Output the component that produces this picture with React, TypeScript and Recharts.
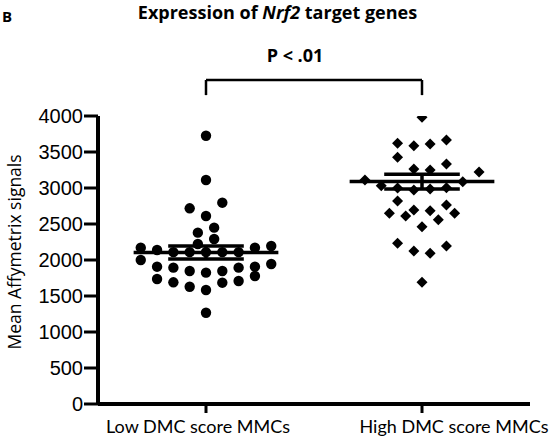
import React from 'react';
import { ScatterChart, Scatter, XAxis, YAxis, ReferenceLine } from 'recharts';

const categories = ['Low DMC score MMCs', 'High DMC score MMCs'];
const yTicks = [0, 500, 1000, 1500, 2000, 2500, 3000, 3500, 4000];

// Low DMC score group: values and beeswarm lane index
const lowValues = [3726, 3111, 2718, 2796, 2611, 2380, 2449, 2292, 2222, 2171, 2000, 2139, 2171, 2194, 1944, 1907, 1778, 1894, 1708, 1907, 1736, 1894, 1690, 1847, 1629, 1824, 1583, 1847, 1685, 1268, 2110, 2110, 2110, 2110, 2110];
const lowLanes = [0, 0, -2, 2, 0, -1, 1, 1, -1, -8, -8, -6, 6, 8, 8, 6, 6, 4, 4, -6, -6, -4, -4, -2, -2, 0, 0, 2, 2, 0, -4, -2, 0, 2, 4];

// High DMC score group
const highValues = [3982, 3620, 3588, 3611, 3667, 3426, 3333, 3264, 3250, 3222, 3111, 3032, 3000, 2972, 2986, 3004, 3088, 2819, 2764, 2694, 2685, 2648, 2611, 2648, 2560, 2463, 2231, 2194, 2125, 2093, 1690];
const highLanes = [0, -3, -1, 1, 3, -3, 3, -1, 1, 7, -7, -5, -3, -1, 1, 3, 5, -3, 3, -1, 1, -4, -2, 4, 2, 0, -3, 3, -1, 1, 0];

const means = [2105, 3090];
const semHigh = [2195, 3190];
const semLow = [2015, 2985];

const pValueLabel = 'P < .01';

const LANE = 0.0755;
const groupPos = (i: number) => i * 2 + 1;

const lowData = lowValues.map((v, i) => ({ x: groupPos(0) + lowLanes[i] * LANE, y: v }));
const highData = highValues.map((v, i) => ({ x: groupPos(1) + highLanes[i] * LANE, y: v }));

const Circle = (props: any) => <circle cx={props.cx} cy={props.cy} r={5.2} fill="#000" />;
const Diamond = (props: any) => {
  const { cx, cy } = props;
  const r = 5.5;
  return <polygon points={`${cx},${cy - r} ${cx + r},${cy} ${cx},${cy + r} ${cx - r},${cy}`} fill="#000" />;
};

const labelOffsets = [-8, 32];
const XTick = (props: any) => {
  const { x, y, payload } = props;
  const idx = payload.value === 1 ? 0 : 1;
  return (
    <text x={x + labelOffsets[idx]} y={y} dy={16} textAnchor="middle" fontFamily="Lato" fontSize={18} fill="#000">
      {categories[idx]}
    </text>
  );
};

const lineStyle = { stroke: '#000', strokeWidth: 3.5 };

export default function App() {
  const refLines: any[] = [];
  means.forEach((m, i) => {
    const g = groupPos(i);
    refLines.push(
      <ReferenceLine key={`m${i}`} segment={[{ x: g - 0.67, y: m }, { x: g + 0.67, y: m }]} {...lineStyle} ifOverflow="visible" />,
      <ReferenceLine key={`t${i}`} segment={[{ x: g - 0.35, y: semHigh[i] }, { x: g + 0.35, y: semHigh[i] }]} {...lineStyle} ifOverflow="visible" />,
      <ReferenceLine key={`b${i}`} segment={[{ x: g - 0.35, y: semLow[i] }, { x: g + 0.35, y: semLow[i] }]} {...lineStyle} ifOverflow="visible" />,
      <ReferenceLine key={`v${i}`} segment={[{ x: g, y: semLow[i] }, { x: g, y: semHigh[i] }]} {...lineStyle} ifOverflow="visible" />
    );
  });
  return (
    <div style={{ position: 'absolute', left: 0, top: 0, width: 550, height: 444 }}>
      <ScatterChart width={550} height={444} margin={{ top: 116, right: 20, bottom: 0, left: 0 }}>
        <XAxis
          type="number"
          dataKey="x"
          domain={[0, 4]}
          ticks={[1, 3]}
          height={40}
          tickSize={9}
          tickMargin={4}
          tick={<XTick />}
          axisLine={{ stroke: '#000', strokeWidth: 4 }}
          tickLine={{ stroke: '#000', strokeWidth: 3 }}
          allowDataOverflow
        />
        <YAxis
          type="number"
          dataKey="y"
          domain={[0, 4000]}
          ticks={yTicks}
          width={98}
          tickSize={14}
          tickMargin={1}
          tick={{ fill: '#000', fontSize: 20, fontFamily: 'Liberation Sans' }}
          axisLine={{ stroke: '#000', strokeWidth: 4 }}
          tickLine={{ stroke: '#000', strokeWidth: 3 }}
          allowDataOverflow
        />
        <Scatter data={lowData} shape={<Circle />} isAnimationActive={false} />
        <Scatter data={highData} shape={<Diamond />} isAnimationActive={false} />
        {refLines}
        <ReferenceLine segment={[{ x: 1, y: 4500 }, { x: 3, y: 4500 }]} stroke="#000" strokeWidth={2.5} ifOverflow="visible" />
        <ReferenceLine segment={[{ x: 1, y: 4500 }, { x: 1, y: 4290 }]} stroke="#000" strokeWidth={2.5} ifOverflow="visible" />
        <ReferenceLine segment={[{ x: 3, y: 4500 }, { x: 3, y: 4290 }]} stroke="#000" strokeWidth={2.5} ifOverflow="visible" />
      </ScatterChart>
      <svg width={550} height={444} style={{ position: 'absolute', left: 0, top: 0, pointerEvents: 'none' }}>
        <text x={2} y={22} fontFamily="Open Sans" fontWeight="bold" fontSize={15} fill="#000">B</text>
        <text x={277.5} y={19} textAnchor="middle" fontFamily="Open Sans" fontWeight="bold" fontSize={18} fill="#000">
          Expression of <tspan fontStyle="italic">Nrf2</tspan> target genes
        </text>
        <text x={295} y={62} textAnchor="middle" fontFamily="Open Sans" fontWeight="bold" fontSize={18} fill="#000">{pValueLabel}</text>
        <text transform="translate(21,252) rotate(-90)" textAnchor="middle" fontFamily="Open Sans" fontSize={17.5} fill="#000">Mean Affymetrix signals</text>
      </svg>
    </div>
  );
}
